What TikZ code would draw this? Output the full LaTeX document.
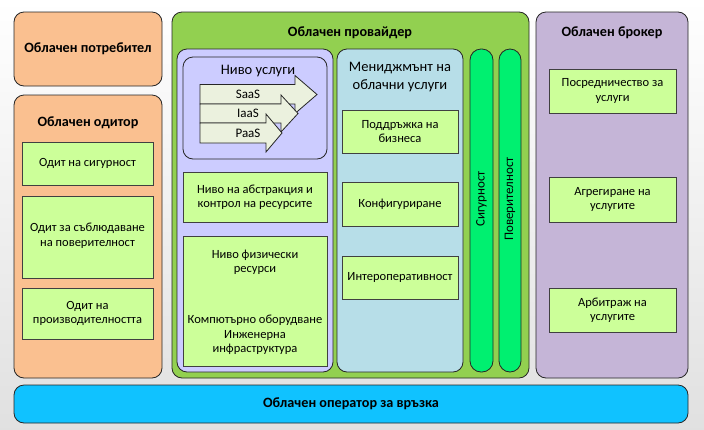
\documentclass[tikz,border=0pt]{standalone}
\usepackage{fontspec}
\setmainfont{Carlito}
\usetikzlibrary{positioning}
\definecolor{cpeach}{HTML}{FAC090}
\definecolor{cgreen}{HTML}{92D050}
\definecolor{clilac}{HTML}{CCCCFF}
\definecolor{cblue}{HTML}{B7DEE8}
\definecolor{citem}{HTML}{CCFF99}
\definecolor{cbar}{HTML}{00F070}
\definecolor{cviolet}{HTML}{C5B5D7}
\definecolor{csky}{HTML}{10C2FF}
\definecolor{carrow}{HTML}{EBF1DE}
\tikzset{panel/.style = {draw=black!85, line width=0.8pt, rounded corners=10pt, inner sep=0pt},
         itembox/.style = {draw=black!75, fill=citem, line width=1pt, inner sep=0pt,
                           align=center, font=\fontsize{12.5}{14.5}\selectfont},
         heading/.style = {font=\fontsize{14.2}{16}\selectfont\bfseries, align=center},
         plain/.style = {font=\fontsize{12.5}{14.5}\selectfont, align=center},
         large/.style = {font=\fontsize{14.5}{18}\selectfont, align=center},
         svcarrow/.style = {draw=black!85, fill=carrow, line width=0.8pt}}

\begin{document}
\begin{tikzpicture}[x=1pt, y=-1pt]
  \useasboundingbox [top color=white, bottom color=black!12] (0, 0) rectangle (704, 429);
  % consumer and auditor
  \node [panel, fill=cpeach, minimum width=148pt, minimum height=74pt, heading] (consumer) at (88, 49) {Облачен потребител};
  \node [panel, fill=cpeach, minimum width=148pt, minimum height=283pt] (auditor) at (88, 236.5) {};
  \node [heading] (auditortitle) at (88, 123) {Облачен одитор};
  \node [itembox, minimum width=131pt, minimum height=43pt] (secaudit) at (87.5, 163.5) {Одит на сигурност};
  \node [itembox, minimum width=131pt, minimum height=82pt] (privaudit) at (87.5, 237) {};
  \node [plain] (privaudittext) at (87.5, 235.5) {Одит за съблюдаване\\на поверителност};
  \node [itembox, minimum width=131pt, minimum height=51pt] (perfaudit) at (87.5, 313.5) {Одит на\\производителността};
  % provider
  \node [panel, fill=cgreen, minimum width=357pt, minimum height=366pt] (provider) at (350.5, 195) {};
  \node [heading] (providertitle) at (350, 33) {Облачен провайдер};
  \node [panel, fill=clilac, minimum width=156pt, minimum height=323pt] (layers) at (255, 210.5) {};
  \node [panel, fill=clilac, minimum width=144pt, minimum height=102pt] (servicelevel) at (255, 108) {};
  \node [large] (servicetitle) at (258, 71) {Ниво услуги};
  \draw [svcarrow] (200, 84.5) -- (295, 84.5) -- (295, 75.5) -- (317, 94.5) -- (295, 113.5) -- (295, 104) -- (200, 104) -- cycle;
  \node [plain, font=\fontsize{13}{15}\selectfont] (saas) at (248, 94.5) {SaaS};
  \draw [svcarrow] (200, 104) -- (281, 104) -- (281, 95) -- (298, 113.5) -- (281, 132) -- (281, 123) -- (200, 123) -- cycle;
  \node [plain, font=\fontsize{13}{15}\selectfont] (iaas) at (248, 113.5) {IaaS};
  \draw [svcarrow] (200, 123) -- (266, 123) -- (266, 114) -- (282, 133) -- (266, 152) -- (266, 143) -- (200, 143) -- cycle;
  \node [plain, font=\fontsize{13}{15}\selectfont] (paas) at (248, 133) {PaaS};
  \node [itembox, minimum width=144pt, minimum height=50pt] (abstraction) at (255, 197) {Ниво на абстракция и\\контрол на ресурсите};
  \node [itembox, minimum width=144pt, minimum height=130pt] (physical) at (255, 301) {};
  \node [plain] (physicaltitle) at (255, 262.5) {Ниво физически\\ресурси};
  \node [plain] (hardware) at (255, 335) {Компютърно оборудване\\Инженерна\\инфраструктура};
  % management
  \node [panel, fill=cblue, minimum width=126pt, minimum height=323pt] (management) at (400, 210.5) {};
  \node [large] (managementtitle) at (400, 77) {Мениджмънт на\\облачни услуги};
  \node [itembox, minimum width=116pt, minimum height=43pt] (support) at (400, 131.5) {Поддръжка на\\бизнеса};
  \node [itembox, minimum width=116pt, minimum height=44pt] (config) at (400, 204) {Конфигуриране};
  \node [itembox, minimum width=116pt, minimum height=43pt] (interop) at (400, 277.5) {Интероперативност};
  % security and privacy bars
  \node [panel, fill=cbar, rounded corners=11pt, minimum width=23pt, minimum height=323pt] (security) at (481.5, 210.5) {};
  \node [plain, rotate=90, font=\fontsize{13}{15}\selectfont] (securitytext) at (481.5, 199) {Сигурност};
  \node [panel, fill=cbar, rounded corners=11pt, minimum width=22pt, minimum height=323pt] (privacy) at (510, 210.5) {};
  \node [plain, rotate=90, font=\fontsize{13}{15}\selectfont] (privacytext) at (510, 199) {Поверителност};
  % broker
  \node [panel, fill=cviolet, minimum width=152pt, minimum height=366pt] (broker) at (612, 195) {};
  \node [heading] (brokertitle) at (612, 33) {Облачен брокер};
  \node [itembox, minimum width=127pt, minimum height=44pt] (intermediation) at (612.5, 91) {Посредничество за\\услуги};
  \node [itembox, minimum width=127pt, minimum height=45pt] (aggregation) at (612.5, 199.5) {Агрегиране на\\услугите};
  \node [itembox, minimum width=127pt, minimum height=44pt] (arbitrage) at (612.5, 310) {Арбитраж на\\услугите};
  % carrier
  \node [panel, fill=csky, minimum width=674pt, minimum height=38pt, heading] (carrier) at (351, 404) {Облачен оператор за връзка};
\end{tikzpicture}
\end{document}
